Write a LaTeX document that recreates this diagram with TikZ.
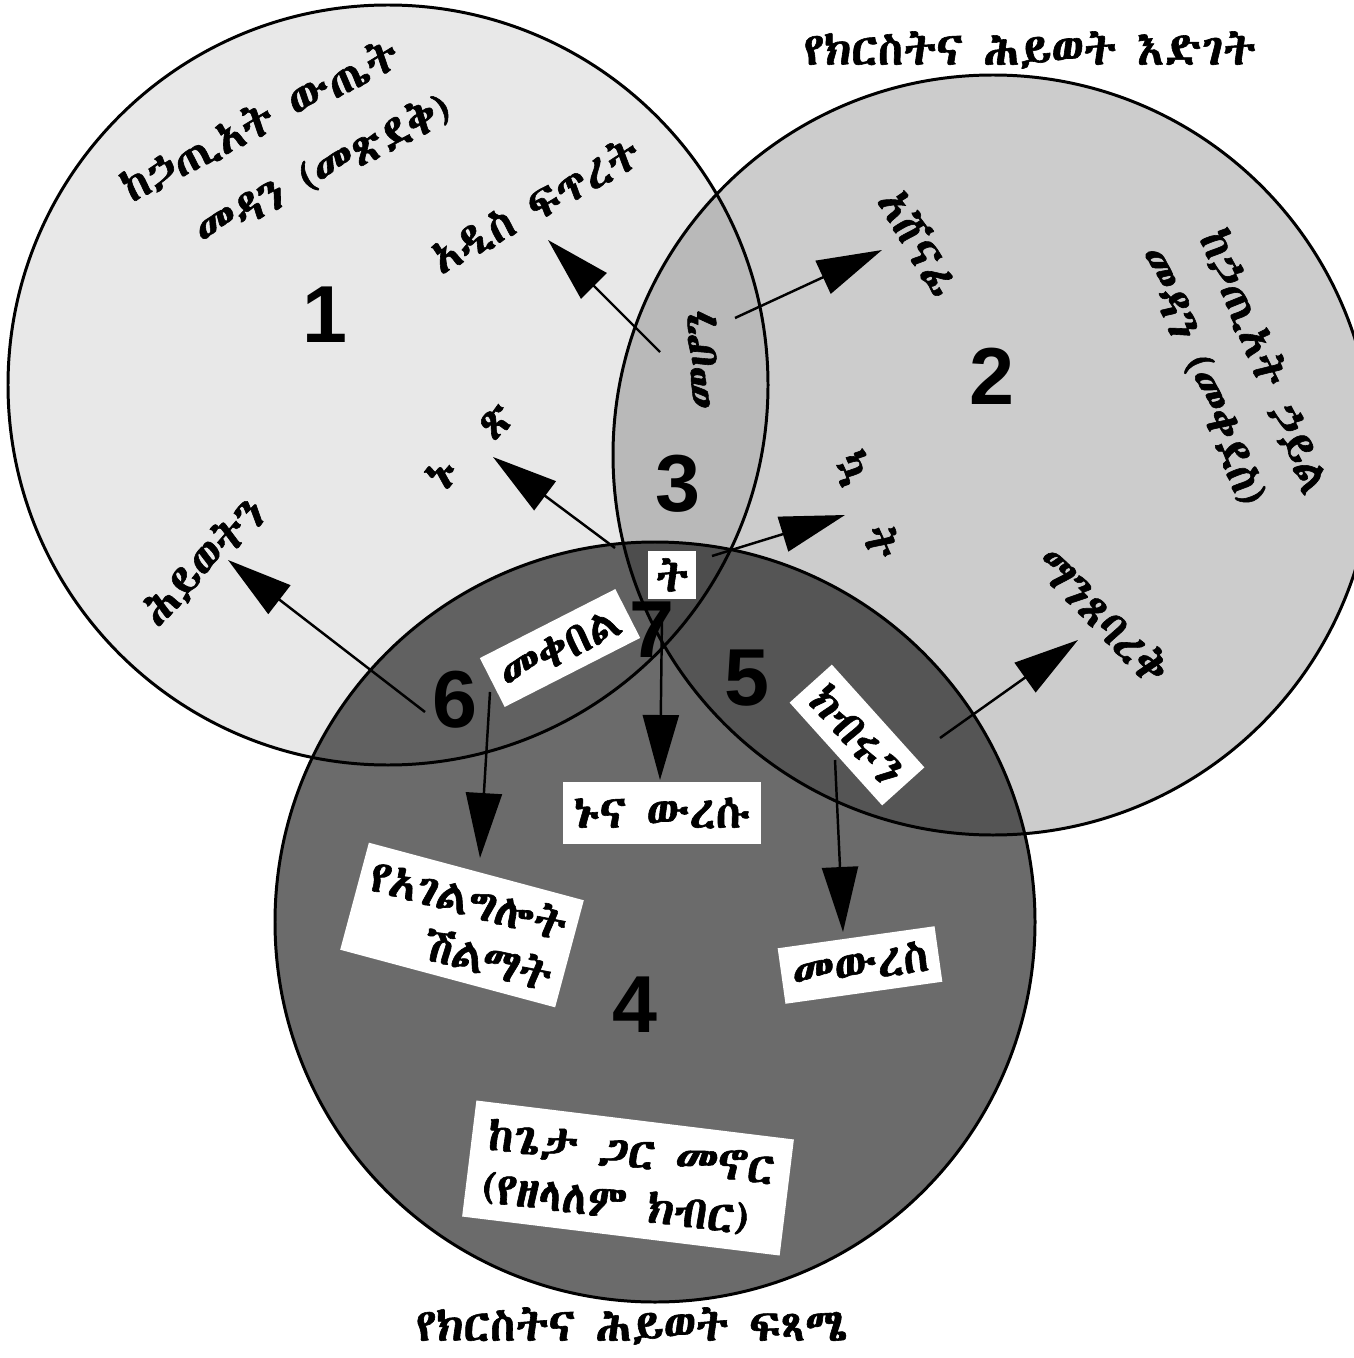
\documentclass[tikz,border=0pt]{standalone}
\usepackage{fontspec}
\setmainfont{Liberation Sans}
\usetikzlibrary{arrows.meta}
\newfontfamily\ethfont[Script=Ethiopic,FakeBold=1.3]{Abyssinica SIL}
\begin{document}
\begin{tikzpicture}[x=0.02cm,y=-0.02cm,
  circ/.style={draw=black,line width=1.7pt},
  lab/.style={font=\ethfont\fontsize{26}{30}\selectfont, inner sep=2pt, align=center},
  wbox/.style={lab, fill=white, inner xsep=6pt, inner ysep=7pt},
  ttl/.style={font=\ethfont\fontsize{26}{30}\selectfont, inner sep=0pt},
  num/.style={font=\bfseries\fontsize{46}{46}\selectfont, inner sep=0pt},
  arr/.style={line width=1.4pt, -{Triangle[length=1.3cm,width=0.72cm]}}]
\useasboundingbox (0,0) rectangle (1353,1358);
\fill[white] (0,0) rectangle (1353,1358);
% circles
\fill[black, fill opacity=0.09] (388,385) circle (380);
\fill[black, fill opacity=0.20] (993,455) circle (380);
\fill[black, fill opacity=0.58] (655,922) circle (380);
\draw[circ] (388,385) circle (380);
\draw[circ] (993,455) circle (380);
\draw[circ] (655,922) circle (380);
% titles
\node[ttl] (tTop) at (1030,50) {የክርስትና ሕይወት እድገት};
\node[ttl] (tBot) at (632,1326) {የክርስትና ሕይወት ፍጻሜ};
% circle 1 texts
\node[lab, rotate=27] (c1a) at (260,120) {ከኃጢአት ውጤት};
\node[lab, rotate=27] (c1b) at (322,168) {መዳን (መጽደቅ)};
\node[lab, rotate=29] (newc) at (535,205) {አዲስ ፍጥረት};
\node[lab, rotate=45] (life) at (203,562) {ሕይወትን};
\node[lab, rotate=45] (lpair) at (470,446) {ኑ\quad ጽ};
% circle 2 texts
\node[lab, rotate=-68] (c2a) at (1265,362) {ከኃጢአት ኃይል};
\node[lab, rotate=-68] (c2b) at (1203,376) {መዳን (መቀደስ)};
\node[lab, rotate=-60] (vict) at (920,242) {አሸናፊ};
\node[lab, rotate=-70] (rpair) at (867,505) {ኳ\quad ት};
\node[lab, rotate=-46] (refl) at (1103,615) {ማንጸባረቅ};
% region 3
\node[lab, rotate=90] (mehon) at (702,360) {መሆን};
% numbers
\node[num] (n1) at (325,315) {1};
\node[num] (n2) at (992,376) {2};
\node[num] (n3) at (678,484) {3};
\node[num] (n4) at (635,1005) {4};
\node[num] (n5) at (747,678) {5};
\node[num] (n6) at (455,700) {6};
\node[num] (n7) at (652,630) {7};
% white boxes
\node[wbox, inner xsep=4pt, inner ysep=4pt] (tbox) at (672,575) {ት};
\node[wbox, rotate=27] (recv) at (560,648) {መቀበል};
\node[wbox, rotate=-48] (glory) at (857,735) {ክብሩን};
\node[wbox, inner ysep=9pt] (come) at (662,813) {ኑና ውረሱ};
\node[wbox, rotate=-15] (reward) at (462,925) {የአገልግሎት\\\hspace*{1.5em}ሽልማት};
\node[wbox, rotate=8] (inh) at (860,965) {መውረስ};
\node[wbox, rotate=-7, align=left, inner xsep=9pt, inner ysep=9pt] (live) at (628,1178) {ከጌታ ጋር መኖር\\(የዘላለም ክብር)};
% arrow coordinates
\coordinate (s1) at (660,352);  \coordinate (e1) at (548,240);
\coordinate (s2) at (735,318);  \coordinate (e2) at (882,250);
\coordinate (s3) at (615,548);  \coordinate (e3) at (493,457);
\coordinate (s4) at (712,556);  \coordinate (e4) at (845,515);
\coordinate (s5) at (425,712);  \coordinate (e5) at (228,560);
\coordinate (s6) at (490,692);  \coordinate (e6) at (480,858);
\coordinate (s7) at (662,615);  \coordinate (e7) at (660,780);
\coordinate (s8) at (835,760);  \coordinate (e8) at (843,932);
\coordinate (s9) at (940,738);  \coordinate (e9) at (1078,640);
\foreach \i in {1,...,9} {\draw[arr] (s\i) -- (e\i);}
\end{tikzpicture}
\end{document}
